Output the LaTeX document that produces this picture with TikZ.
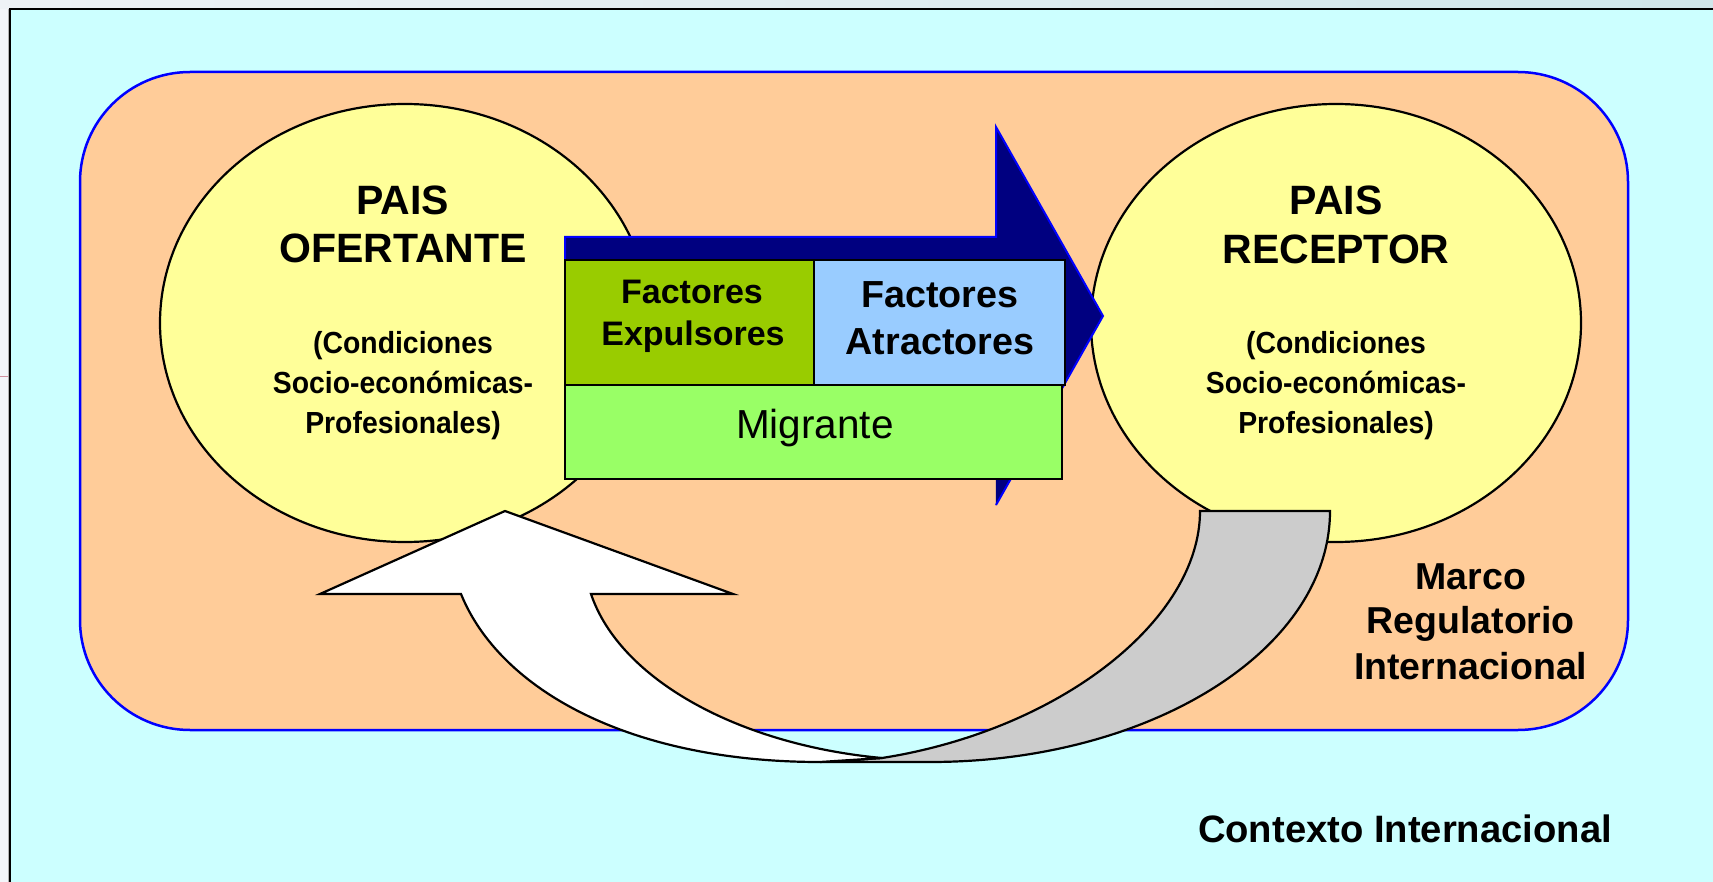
\documentclass[tikz,border=0pt]{standalone}
\usepackage{fontspec}
\setmainfont{Liberation Sans}
\newfontfamily\narrowfont{Liberation Sans}[FakeStretch=0.93]
\usetikzlibrary{shapes.geometric}
\definecolor{cyanbg}{HTML}{CCFFFF}
\definecolor{orangebg}{HTML}{FFCC99}
\definecolor{yellowc}{HTML}{FFFF99}
\definecolor{greenA}{HTML}{99CC00}
\definecolor{blueA}{HTML}{99CCFF}
\definecolor{greenB}{HTML}{99FF66}
\definecolor{navyc}{HTML}{000080}
\definecolor{blueline}{HTML}{0000FF}
\definecolor{grayc}{HTML}{CCCCCC}
\definecolor{outside}{HTML}{F3F5F9}
\definecolor{stripL}{HTML}{EEF2F6}
\definecolor{stripM}{HTML}{A9CBD8}
\definecolor{stripR}{HTML}{D0E6EA}
\definecolor{pinkline}{HTML}{D090A0}
\begin{document}
\begin{tikzpicture}[x=1pt,y=-1pt,
  txt/.style={inner sep=0pt, anchor=base},
  bigtxt/.style={txt, font=\fontsize{41}{49}\selectfont\bfseries},
  subtxt/.style={txt, font=\narrowfont\fontsize{30.5}{36}\selectfont\bfseries},
  facL/.style={txt, font=\fontsize{34}{40}\selectfont\bfseries},
  facR/.style={txt, font=\fontsize{37.7}{44}\selectfont\bfseries},
  migtxt/.style={txt, font=\fontsize{40.5}{48}\selectfont},
  marcotxt/.style={txt, font=\fontsize{37.5}{45}\selectfont\bfseries},
  ctxtxt/.style={txt, font=\fontsize{38.2}{45}\selectfont\bfseries},
  pais/.style={ellipse, draw=black, fill=yellowc, line width=2.2pt,
    minimum width=490pt, minimum height=438pt, inner sep=0pt},
  factorbox/.style={rectangle, draw=black, line width=2.6pt, inner sep=0pt},
  blockarrow/.style={line width=2.2pt, draw=black}
]
\useasboundingbox (0,0) rectangle (1713,882);
% outside and top strip
\fill[outside] (0,0) rectangle (1713,882);
\shade[left color=stripL, middle color=stripM, right color=stripR] (0,0) rectangle (1713,9);
\draw[pinkline, line width=1pt] (0,377) -- (8,377);
% context background
\fill[cyanbg] (10,9) rectangle (1713,882);
\draw[gray!60, line width=1pt] (8,9) -- (8,882);
\draw[black, line width=2.7pt] (10,882) -- (10,9) -- (1713,9);
% regulatory frame
\draw[blueline, fill=orangebg, line width=2.5pt, rounded corners=110pt] (80,72) rectangle (1628,730);
% countries
\node[pais] (ofer) at (405,323) {};
\node[pais] (recep) at (1336,323) {};
% navy arrow
\draw[navyc, fill=navyc] (565,237) -- (996,237) -- (996,127) -- (1103,316) -- (996,505) -- (996,395) -- (565,395) -- cycle;
\draw[blueline, line width=2pt] (565,395) -- (565,237) -- (996,237) -- (996,127) -- (1103,316) -- (996,505);
% factor boxes
\node[factorbox, fill=greenA, minimum width=249pt, minimum height=125pt] (expul) at (689.5,322.5) {};
\node[factorbox, fill=blueA, minimum width=251pt, minimum height=125pt] (atrac) at (939.5,322.5) {};
\node[factorbox, fill=greenB, minimum width=497pt, minimum height=94pt] (migr) at (813.5,432) {};
% curved arrows
\draw[blockarrow, fill=grayc] (1200,511) -- (1330,511) .. controls (1330,649.6) and (1150.9,762) .. (930,762)
  -- (820,762) -- (882,758) .. controls (1060,730) and (1200,620) .. (1200,511) -- cycle;
\draw[blockarrow, fill=white] (505,511) -- (733,594) -- (591,594) .. controls (620,680) and (740,745) .. (882,758)
  -- (820,762) .. controls (630,762) and (500,690) .. (461,594) -- (320,594) -- cycle;
% texts
\node[bigtxt] (ofer1) at (403,215) {PAIS};
\node[bigtxt] (ofer2) at (403,262.7) {OFERTANTE};
\node[subtxt] (ofer3) at (403,354) {(Condiciones};
\node[subtxt] (ofer4) at (403,393) {Socio-económicas-};
\node[subtxt] (ofer5) at (403,433) {Profesionales)};
\node[bigtxt] (rec1) at (1336,215) {PAIS};
\node[bigtxt] (rec2) at (1336,263.3) {RECEPTOR};
\node[subtxt] (rec3) at (1336,354) {(Condiciones};
\node[subtxt] (rec4) at (1336,393) {Socio-económicas-};
\node[subtxt] (rec5) at (1336,433) {Profesionales)};
\node[facL] (exp1) at (692,304) {Factores};
\node[facL] (exp2) at (693,346) {Expulsores};
\node[facR] (atr1) at (940,307.3) {Factores};
\node[facR] (atr2) at (940,355) {Atractores};
\node[migtxt] (mig) at (815,438.3) {Migrante};
\node[marcotxt] (mar1) at (1470.7,589.3) {Marco};
\node[marcotxt] (mar2) at (1470.7,633.3) {Regulatorio};
\node[marcotxt] (mar3) at (1470.7,679.3) {Internacional};
\node[ctxtxt] (ctx) at (1405,842.7) {Contexto Internacional};
\end{tikzpicture}
\end{document}
